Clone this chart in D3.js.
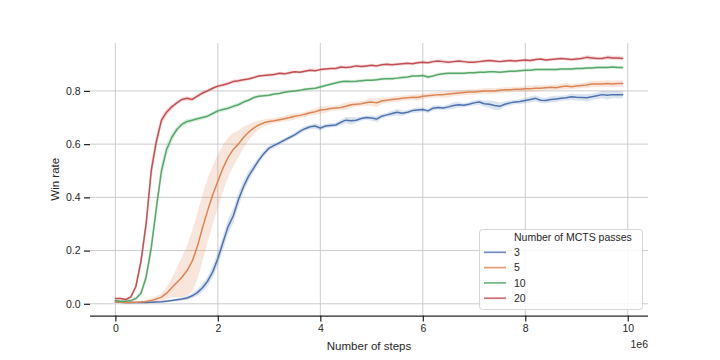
<!DOCTYPE html>
<html>
<head>
<meta charset="utf-8">
<script src="https://cdn.jsdelivr.net/npm/d3@7"></script>
<style>
  html, body { margin: 0; padding: 0; background: #ffffff; }
  svg { display: block; font-family: "Liberation Sans", Arial, sans-serif; }
</style>
</head>
<body>
<svg id="chart" width="720" height="360"></svg>
<script>
// ---------- data ----------
const stepUnit = 1e5;             // spacing between logged points (steps)
const seriesNames = ["3", "5", "10", "20"];
const legendTitle = "Number of MCTS passes";
const xTicks = [0, 2e6, 4e6, 6e6, 8e6, 10e6];
const xTickLabels = ["0", "2", "4", "6", "8", "10"];
const yTicks = [0.0, 0.2, 0.4, 0.6, 0.8];
const yTickLabels = ["0.0", "0.2", "0.4", "0.6", "0.8"];
const xLabel = "Number of steps";
const yLabel = "Win rate";
const xOffsetLabel = "1e6";

const win3 = [0.008,0.006,0.005,0.005,0.005,0.005,0.005,0.006,0.007,0.008,
  0.010,0.012,0.015,0.018,0.022,0.030,0.042,0.060,0.085,0.120,
  0.170,0.230,0.290,0.330,0.390,0.440,0.480,0.510,0.540,0.565,
  0.585,0.595,0.605,0.615,0.625,0.635,0.648,0.658,0.665,0.668,
  0.660,0.668,0.670,0.672,0.682,0.690,0.688,0.690,0.696,0.700,
  0.698,0.694,0.705,0.710,0.715,0.720,0.716,0.720,0.726,0.728,
  0.730,0.725,0.735,0.738,0.736,0.740,0.745,0.748,0.746,0.750,
  0.755,0.758,0.752,0.750,0.745,0.742,0.750,0.755,0.758,0.760,
  0.764,0.768,0.772,0.765,0.764,0.768,0.770,0.772,0.774,0.778,
  0.776,0.775,0.774,0.778,0.782,0.786,0.784,0.786,0.786,0.786];
const ci3 = [0.003,0.003,0.003,0.003,0.003,0.003,0.003,0.003,0.003,0.003,
  0.004,0.004,0.005,0.006,0.007,0.009,0.012,0.015,0.018,0.022,
  0.026,0.028,0.028,0.027,0.025,0.022,0.019,0.016,0.013,0.011,
  0.010,0.009,0.008,0.008,0.008,0.008,0.010,0.009,0.008,0.010,
  0.010,0.008,0.008,0.008,0.010,0.012,0.014,0.010,0.008,0.008,
  0.010,0.012,0.008,0.008,0.010,0.012,0.010,0.008,0.008,0.010,
  0.008,0.008,0.010,0.008,0.008,0.010,0.012,0.010,0.008,0.008,
  0.010,0.010,0.012,0.014,0.016,0.014,0.010,0.010,0.008,0.010,
  0.010,0.012,0.012,0.010,0.010,0.012,0.012,0.010,0.010,0.012,
  0.012,0.012,0.014,0.012,0.012,0.014,0.016,0.014,0.014,0.014];

const win5 = [0.008,0.006,0.005,0.005,0.006,0.007,0.009,0.012,0.018,0.025,
  0.040,0.060,0.080,0.100,0.125,0.160,0.215,0.285,0.350,0.410,
  0.460,0.510,0.550,0.580,0.600,0.625,0.645,0.660,0.672,0.680,
  0.685,0.688,0.692,0.695,0.700,0.705,0.708,0.712,0.718,0.722,
  0.728,0.730,0.734,0.736,0.738,0.742,0.748,0.750,0.752,0.756,
  0.758,0.755,0.762,0.765,0.768,0.770,0.772,0.774,0.776,0.775,
  0.780,0.782,0.784,0.786,0.786,0.788,0.790,0.792,0.794,0.796,
  0.796,0.798,0.800,0.800,0.800,0.802,0.804,0.804,0.806,0.806,
  0.808,0.808,0.810,0.810,0.812,0.814,0.812,0.816,0.818,0.816,
  0.818,0.820,0.822,0.826,0.826,0.826,0.828,0.826,0.828,0.828];
const ci5 = [0.003,0.003,0.003,0.003,0.003,0.004,0.006,0.008,0.010,0.014,
  0.022,0.035,0.055,0.075,0.095,0.115,0.125,0.125,0.120,0.110,
  0.100,0.088,0.075,0.062,0.050,0.040,0.030,0.023,0.017,0.013,
  0.011,0.010,0.010,0.010,0.012,0.012,0.010,0.010,0.010,0.012,
  0.014,0.012,0.010,0.010,0.012,0.014,0.012,0.010,0.010,0.012,
  0.014,0.016,0.012,0.010,0.010,0.012,0.010,0.010,0.010,0.012,
  0.010,0.010,0.010,0.010,0.012,0.012,0.010,0.010,0.010,0.010,
  0.010,0.010,0.010,0.012,0.010,0.010,0.010,0.010,0.010,0.010,
  0.010,0.012,0.012,0.010,0.010,0.010,0.010,0.012,0.012,0.010,
  0.010,0.010,0.012,0.012,0.012,0.012,0.012,0.012,0.012,0.012];

const win10 = [0.012,0.010,0.010,0.012,0.020,0.040,0.100,0.210,0.360,0.500,
  0.580,0.625,0.655,0.675,0.685,0.690,0.695,0.700,0.705,0.715,
  0.725,0.730,0.735,0.742,0.748,0.758,0.765,0.775,0.780,0.782,
  0.784,0.788,0.790,0.795,0.798,0.800,0.802,0.806,0.808,0.810,
  0.815,0.820,0.825,0.830,0.834,0.836,0.835,0.836,0.838,0.840,
  0.840,0.842,0.845,0.846,0.846,0.848,0.850,0.852,0.856,0.856,
  0.858,0.852,0.856,0.862,0.864,0.866,0.866,0.866,0.866,0.868,
  0.868,0.870,0.870,0.872,0.872,0.870,0.872,0.874,0.874,0.876,
  0.878,0.878,0.880,0.880,0.880,0.880,0.880,0.882,0.882,0.882,
  0.884,0.884,0.886,0.886,0.888,0.888,0.888,0.890,0.888,0.888];
const ci10 = [0.004,0.004,0.004,0.004,0.006,0.012,0.022,0.032,0.036,0.032,
  0.024,0.017,0.012,0.010,0.010,0.008,0.008,0.008,0.008,0.008,
  0.008,0.008,0.008,0.008,0.008,0.008,0.007,0.007,0.007,0.006,
  0.006,0.006,0.006,0.006,0.006,0.006,0.006,0.006,0.006,0.006,
  0.006,0.006,0.006,0.006,0.006,0.006,0.006,0.006,0.006,0.006,
  0.006,0.006,0.006,0.006,0.006,0.006,0.006,0.006,0.006,0.006,
  0.006,0.008,0.006,0.006,0.006,0.006,0.006,0.006,0.006,0.006,
  0.006,0.006,0.006,0.006,0.006,0.006,0.006,0.006,0.006,0.006,
  0.006,0.006,0.006,0.006,0.006,0.006,0.006,0.006,0.006,0.006,
  0.006,0.006,0.006,0.006,0.006,0.006,0.006,0.006,0.006,0.006];

const win20 = [0.020,0.020,0.016,0.025,0.065,0.160,0.300,0.500,0.610,0.690,
  0.720,0.740,0.755,0.768,0.772,0.768,0.780,0.792,0.800,0.810,
  0.818,0.822,0.828,0.835,0.838,0.842,0.845,0.850,0.856,0.858,
  0.860,0.862,0.866,0.864,0.868,0.872,0.870,0.874,0.878,0.876,
  0.880,0.882,0.884,0.884,0.890,0.888,0.890,0.894,0.892,0.894,
  0.896,0.894,0.898,0.900,0.898,0.900,0.902,0.904,0.902,0.906,
  0.908,0.906,0.910,0.912,0.910,0.908,0.910,0.912,0.910,0.908,
  0.908,0.910,0.912,0.914,0.912,0.910,0.912,0.914,0.912,0.914,
  0.916,0.914,0.918,0.920,0.916,0.918,0.920,0.922,0.920,0.918,
  0.920,0.922,0.926,0.924,0.922,0.922,0.926,0.924,0.924,0.922];
const ci20 = [0.004,0.004,0.004,0.006,0.014,0.026,0.036,0.036,0.028,0.018,
  0.013,0.010,0.008,0.008,0.008,0.008,0.008,0.008,0.007,0.007,
  0.007,0.007,0.007,0.007,0.007,0.006,0.006,0.006,0.006,0.006,
  0.006,0.006,0.006,0.006,0.006,0.006,0.006,0.006,0.006,0.006,
  0.006,0.006,0.006,0.006,0.006,0.006,0.006,0.006,0.006,0.006,
  0.006,0.006,0.006,0.006,0.006,0.006,0.006,0.006,0.006,0.006,
  0.006,0.006,0.006,0.006,0.008,0.006,0.006,0.006,0.006,0.006,
  0.006,0.006,0.006,0.006,0.006,0.006,0.006,0.006,0.006,0.006,
  0.006,0.006,0.006,0.006,0.006,0.006,0.006,0.006,0.006,0.006,
  0.006,0.006,0.008,0.008,0.006,0.006,0.008,0.008,0.008,0.008];

const seriesColors = ["#4c72b0", "#dd8452", "#55a868", "#c44e52"];

// ---------- build ----------
const series = [
  { name: seriesNames[0], mean: win3, ci: ci3, color: seriesColors[0] },
  { name: seriesNames[1], mean: win5, ci: ci5, color: seriesColors[1] },
  { name: seriesNames[2], mean: win10, ci: ci10, color: seriesColors[2] },
  { name: seriesNames[3], mean: win20, ci: ci20, color: seriesColors[3] }
].map(s => ({
  ...s,
  points: s.mean.map((v, i) => ({ x: i * stepUnit, y: v, lo: v - s.ci[i], hi: v + s.ci[i] }))
}));

const svg = d3.select("#chart");
const plotLeft = 90, plotRight = 648, plotTop = 43, plotBottom = 315.5;

const x = d3.scaleLinear().domain([-0.495e6, 10.395e6]).range([plotLeft, plotRight]);
const y = d3.scaleLinear().domain([-0.044, 0.98]).range([plotBottom, plotTop]);

const gridColor = "#cccccc";
const textColor = "#262626";

// grid
svg.append("g").selectAll("line").data(xTicks).join("line")
  .attr("x1", d => x(d)).attr("x2", d => x(d))
  .attr("y1", plotTop).attr("y2", plotBottom)
  .attr("stroke", gridColor).attr("stroke-width", 1);
svg.append("g").selectAll("line").data(yTicks).join("line")
  .attr("x1", plotLeft).attr("x2", plotRight)
  .attr("y1", d => y(d)).attr("y2", d => y(d))
  .attr("stroke", gridColor).attr("stroke-width", 1);

// bands + lines
const area = d3.area().x(d => x(d.x)).y0(d => y(d.lo)).y1(d => y(d.hi));
const line = d3.line().x(d => x(d.x)).y(d => y(d.y));
svg.append("g").selectAll("path").data(series).join("path")
  .attr("d", s => area(s.points))
  .attr("fill", s => s.color).attr("fill-opacity", 0.2).attr("stroke", "none");
svg.append("g").selectAll("path").data(series).join("path")
  .attr("d", s => line(s.points))
  .attr("fill", "none").attr("stroke", s => s.color)
  .attr("stroke-width", 1.5).attr("stroke-linejoin", "round").attr("stroke-linecap", "round");

// x axis
const xAxis = d3.axisBottom(x).tickValues(xTicks)
  .tickFormat((d, i) => xTickLabels[i]).tickSize(6).tickPadding(3.5);
const gx = svg.append("g").attr("transform", `translate(0,${plotBottom})`).call(xAxis);
gx.select(".domain").attr("d", `M${plotLeft},0.5H${plotRight}`).attr("stroke", textColor).attr("stroke-width", 1.25);
gx.selectAll(".tick line").attr("stroke", textColor).attr("stroke-width", 1.25);
gx.selectAll(".tick text").attr("fill", textColor).attr("font-size", 10.5)
  .attr("font-family", "Liberation Sans, Arial, sans-serif");

// y axis (no spine)
const yAxis = d3.axisLeft(y).tickValues(yTicks)
  .tickFormat((d, i) => yTickLabels[i]).tickSize(6).tickPadding(3.5);
const gy = svg.append("g").attr("transform", `translate(${plotLeft},0)`).call(yAxis);
gy.select(".domain").remove();
gy.selectAll(".tick line").attr("stroke", textColor).attr("stroke-width", 1.25);
gy.selectAll(".tick text").attr("fill", textColor).attr("font-size", 10.5)
  .attr("font-family", "Liberation Sans, Arial, sans-serif");

// labels
svg.append("text").attr("x", (plotLeft + plotRight) / 2).attr("y", 350)
  .attr("text-anchor", "middle").attr("fill", textColor).attr("font-size", 11.5)
  .text(xLabel);
svg.append("text").attr("transform", `translate(59,${(plotTop + plotBottom) / 2}) rotate(-90)`)
  .attr("text-anchor", "middle").attr("fill", textColor).attr("font-size", 11.5)
  .text(yLabel);
svg.append("text").attr("x", plotRight).attr("y", 348)
  .attr("text-anchor", "end").attr("fill", textColor).attr("font-size", 10.5)
  .text(xOffsetLabel);

// legend
const lg = svg.append("g");
lg.append("rect").attr("x", 479.5).attr("y", 229.5).attr("width", 163).attr("height", 80)
  .attr("rx", 3).attr("fill", "#ffffff").attr("fill-opacity", 0.85)
  .attr("stroke", "#d6d6d6").attr("stroke-width", 1);
const rowY0 = 237, rowStep = 15.3;
lg.append("text").attr("x", 514).attr("y", rowY0).attr("dy", "0.35em")
  .attr("fill", textColor).attr("font-size", 10.5).text(legendTitle);
const rows = lg.selectAll("g.row").data(series).join("g").attr("class", "row")
  .attr("transform", (s, i) => `translate(0,${rowY0 + rowStep * (i + 1)})`);
rows.append("line").attr("x1", 484).attr("x2", 506).attr("y1", 0).attr("y2", 0)
  .attr("stroke", s => s.color).attr("stroke-width", 1.75).attr("stroke-opacity", 0.8);
rows.append("text").attr("x", 514).attr("y", 0).attr("dy", "0.35em")
  .attr("fill", textColor).attr("font-size", 10.5).text(s => s.name);
</script>
</body>
</html>
